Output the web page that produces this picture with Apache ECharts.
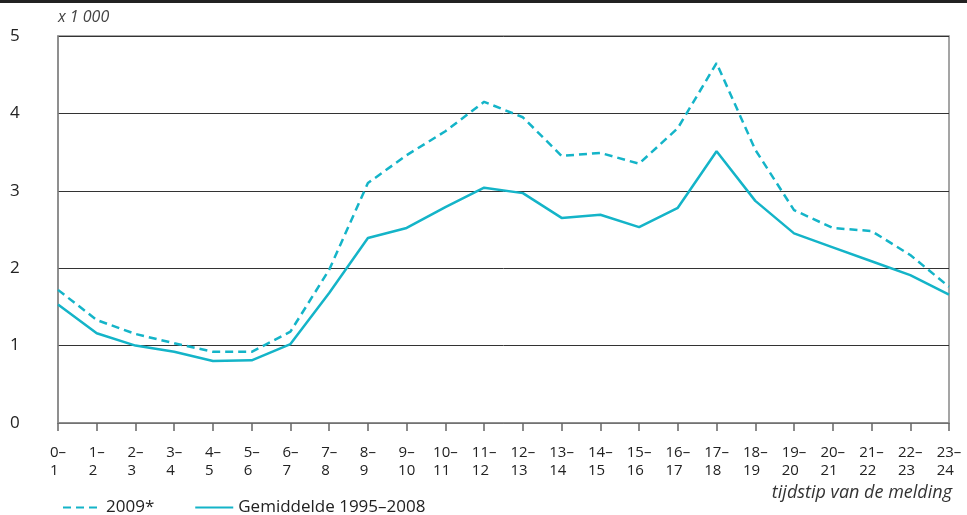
<!DOCTYPE html>
<html>
<head>
<meta charset="utf-8">
<script src="https://cdn.jsdelivr.net/npm/echarts@6/dist/echarts.min.js"></script>
<style>
  html, body { margin: 0; padding: 0; background: #fff; }
  #chart { width: 967px; height: 515px; }
</style>
</head>
<body>
<div id="chart"></div>
<script>
// uur van de melding (0-1 ... 23-24)
var hourFrom = [];
var hourTo = [];
for (var h = 0; h < 24; h++) { hourFrom.push(String(h)); hourTo.push(String(h + 1)); }

var yTicks = [0, 1, 2, 3, 4, 5];

// x 1 000
var data2009 = [1.72, 1.33, 1.15, 1.03, 0.92, 0.92, 1.18, 1.98, 3.10, 3.46, 3.77, 4.15,
                3.95, 3.45, 3.49, 3.35, 3.81, 4.65, 3.53, 2.75, 2.52, 2.48, 2.17, 1.76];
var dataGem = [1.53, 1.16, 1.00, 0.92, 0.80, 0.81, 1.02, 1.68, 2.39, 2.52, 2.79, 3.04,
               2.97, 2.65, 2.69, 2.53, 2.78, 3.51, 2.87, 2.45, 2.27, 2.09, 1.91, 1.66];

var cyan = '#14b4c8';
var font = '"Open Sans", "Noto Sans", sans-serif';

// second line left-aligned under the first: pad it with an invisible dash
var hours = hourFrom.map(function (f, i) {
  var t = hourTo[i];
  var pad = t.length === f.length ? '{p|–}' : '';
  return '{a|' + f + '–}\n{a|' + t + '}' + pad;
});

var chart = echarts.init(document.getElementById('chart'));
chart.setOption({
  animation: false,
  textStyle: { fontFamily: font },
  grid: {
    left: 58, right: 18, top: 36, bottom: 92,
    show: true, borderColor: '#888', borderWidth: 1.5
  },
  graphic: [
    { type: 'rect', left: 0, top: 0, shape: { width: 967, height: 3 }, style: { fill: '#222' } },
    { type: 'text', left: 58, top: 9,
      style: { text: 'x 1 000', font: 'italic 16px ' + font, fill: '#444' } },
    { type: 'text', right: 15, top: 484,
      style: { text: 'tijdstip van de melding', font: 'italic 18px ' + font, fill: '#333' } }
  ],
  legend: {
    left: 57, top: 494,
    itemWidth: 38, itemHeight: 10, itemGap: 40,
    itemStyle: { opacity: 0 },
    textStyle: { fontSize: 17, color: '#222', fontFamily: font },
    data: ['2009*', 'Gemiddelde 1995–2008']
  },
  xAxis: {
    type: 'category',
    data: hours,
    boundaryGap: false,
    axisLine: { show: true, lineStyle: { color: '#888', width: 1.5 } },
    axisTick: { show: true, length: 8, lineStyle: { color: '#666', width: 1.5 } },
    axisLabel: {
      interval: 0, color: '#222', fontSize: 15, margin: 21,
      rich: {
        a: { fontSize: 15, color: '#222', lineHeight: 18 },
        p: { fontSize: 15, color: 'rgba(0,0,0,0)', lineHeight: 18 }
      }
    },
    splitLine: { show: false }
  },
  yAxis: {
    type: 'value',
    min: yTicks[0], max: yTicks[yTicks.length - 1], interval: 1,
    axisLine: { show: true, lineStyle: { color: '#888', width: 1.5 } },
    axisTick: { show: false },
    axisLabel: { color: '#222', fontSize: 17, align: 'left', margin: 48 },
    splitLine: { show: true, lineStyle: { color: '#333', width: 1 } }
  },
  series: [
    {
      name: '2009*', type: 'line', data: data2009,
      symbol: 'none', smooth: false,
      lineStyle: { color: cyan, width: 2.5, type: [8, 5] },
      itemStyle: { color: cyan }
    },
    {
      name: 'Gemiddelde 1995–2008', type: 'line', data: dataGem,
      symbol: 'none', smooth: false,
      lineStyle: { color: cyan, width: 2.5 },
      itemStyle: { color: cyan }
    }
  ]
});
</script>
</body>
</html>
